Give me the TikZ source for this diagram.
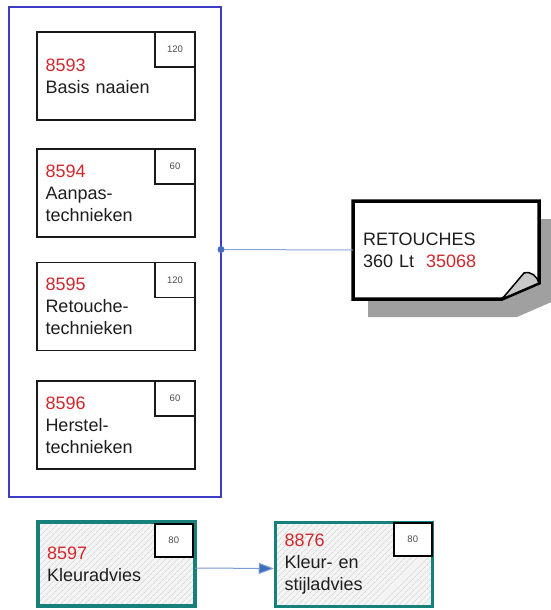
\documentclass[tikz,border=0pt]{standalone}
\usepackage{fontspec}
\setmainfont{Liberation Sans}
\usetikzlibrary{arrows.meta,patterns.meta,calc}
\definecolor{numred}{RGB}{210,40,45}
\definecolor{frameblue}{RGB}{60,60,200}
\definecolor{dotblue}{RGB}{70,110,190}
\definecolor{lineblue}{RGB}{140,165,215}
\definecolor{arrowblue}{RGB}{60,110,190}
\definecolor{tealb}{RGB}{22,128,122}
\definecolor{txt}{RGB}{30,30,30}
\definecolor{shadowgray}{RGB}{160,160,160}
\definecolor{foldgray}{RGB}{200,200,200}
\definecolor{hatchbg}{RGB}{244,244,244}
\definecolor{hatchline}{RGB}{205,205,205}
\newcommand{\mainfs}{\fontsize{18}{22}\selectfont}
\newcommand{\smallfs}{\fontsize{9.5}{10}\selectfont}
\begin{document}
\begin{tikzpicture}[x=1pt,y=-1pt,
  lbox/.style={draw=black!90, line width=1.8pt, fill=white, minimum width=158pt, minimum height=88pt,
    text width=141pt, inner xsep=8.5pt, inner ysep=0pt, align=left, font=\mainfs, text=txt, outer sep=0pt},
  cbox/.style={draw=black!90, line width=1.8pt, fill=white, minimum width=40pt, minimum height=35pt,
    inner sep=0pt, font=\smallfs, text=black!70, outer sep=0pt},
  tbox/.style={draw=tealb, line width=3.5pt, preaction={fill=hatchbg},
    pattern={Lines[angle=45,distance=4pt,line width=0.5pt]}, pattern color=hatchline,
    minimum width=157pt, minimum height=84pt, text width=139pt, inner xsep=9pt, inner ysep=0pt,
    align=left, font=\mainfs, text=txt},
  kbox/.style={draw=black, line width=2pt, fill=white, minimum width=38pt, minimum height=33pt,
    inner sep=0pt, font=\smallfs, text=black!70, outer sep=0pt},
  frame/.style={draw=frameblue, line width=2pt, minimum width=212pt, minimum height=490pt, inner sep=0pt},
  conn/.style={draw=lineblue, line width=1pt},
  arr/.style={draw=lineblue!80!arrowblue, line width=1pt, -{Triangle[length=15pt,width=11pt,fill=arrowblue]}}
]
\useasboundingbox (0,0) rectangle (551,610);
\clip (0,0) rectangle (551,610);
\fill[white] (0,0) rectangle (551,610);

% blue group frame
\node[frame] (group) at (115,252) {};

% course boxes
\node[lbox] (b1) at (116,76) {\textcolor{numred}{8593}\\Basis naaien};
\node[cbox, anchor=north east] (c1) at (b1.north east) {120};
\node[lbox] (b2) at (116,193) {\textcolor{numred}{8594}\\Aanpas-\\technieken};
\node[cbox, anchor=north east] (c2) at (b2.north east) {60};
\node[lbox] (b3) at (116,306.5) {\textcolor{numred}{8595}\\Retouche-\\technieken};
\node[cbox, anchor=north east] (c3) at (b3.north east) {120};
\node[lbox] (b4) at (116,425) {\textcolor{numred}{8596}\\Herstel-\\technieken};
\node[cbox, anchor=north east] (c4) at (b4.north east) {60};

% RETOUCHES note
\node[minimum width=186pt, minimum height=98pt, inner sep=0pt] (ret) at (446,250) {};
\fill[shadowgray] (368,219) -- (556,219) -- (556,300) -- (517,317) -- (368,317) -- cycle;
\draw[line width=3.5pt, fill=white, line join=miter] (353,201) -- (539,201) -- (539,283) -- (502,299) -- (353,299) -- cycle;
\draw[line width=1.5pt, fill=foldgray, line join=round] (502,299) -- (524,273) .. controls (531,271) and (537,276) .. (539,283) -- cycle;
\node[text width=166pt, inner xsep=10pt, inner ysep=0pt, align=left, font=\mainfs, text=txt] (rettext) at (446,250)
  {RETOUCHES\\360 Lt\ \ \textcolor{numred}{35068}};

% connector
\coordinate (dot) at (221,249.5);
\draw[conn] (dot) -- (ret.west);
\fill[dotblue] (dot) circle (3.5);

% bottom boxes
\node[tbox] (k1) at (116.5,564) {\textcolor{numred}{8597}\\Kleuradvies};
\node[kbox, anchor=north east] (kc1) at ([xshift=-2.5pt,yshift=-2pt]k1.north east) {80};
\node[tbox] (k2) at (354,564.5) {\textcolor{numred}{8876}\\Kleur- en\\stijladvies};
\node[kbox, anchor=north east] (kc2) at ([xshift=-2.5pt,yshift=-2pt]k2.north east) {80};

\draw[arr] ([yshift=-4pt]k1.east) -- ([yshift=-4pt]k2.west);
\end{tikzpicture}
\end{document}
